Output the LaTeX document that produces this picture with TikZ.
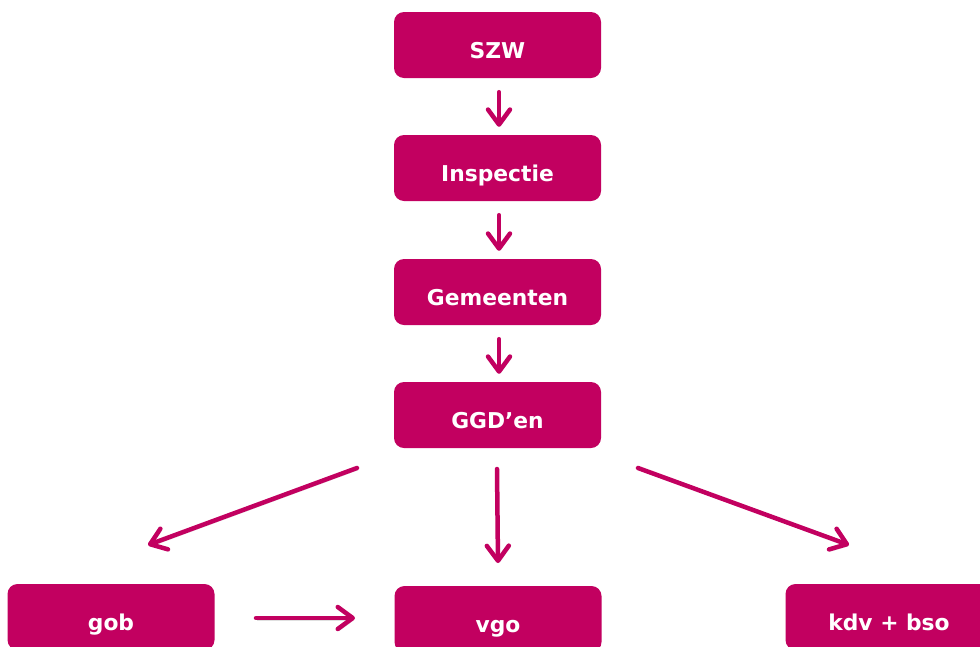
\documentclass[tikz,border=0pt]{standalone}
\usepackage{fontspec}
\setmainfont{DejaVu Sans}
\usetikzlibrary{arrows.meta}
\definecolor{roze}{RGB}{194,0,96}
\tikzset{
  box/.style={draw=none, fill=roze, rounded corners=10pt, minimum width=207pt, minimum height=66pt,
    inner sep=0pt, text=white, font=\fontsize{21.8}{26}\selectfont\bfseries, text height=26pt, text depth=0pt},
  pijl/.style={draw=roze, line width=4.5pt, line cap=round,
    -{Straight Barb[length=15pt, width=22pt, line cap=round, line join=round]},
    preaction={draw=black!35, opacity=0.35, transform canvas={shift={(1.2pt,-2pt)}}}},
}
\begin{document}
\begin{tikzpicture}[x=1pt, y=-1pt]
\useasboundingbox (0,0) rectangle (980,646);
\clip (0,0) rectangle (980,646);
\fill[white] (0,0) rectangle (980,646);
\node[box] (szw) at (497.5,45) {SZW};
\node[box] (insp) at (497.5,168) {Inspectie};
\node[box] (gem) at (497.5,292) {Gemeenten};
\node[box] (ggd) at (497.5,415) {GGD’en};
\node[box] (gob) at (111,617) {gob};
\node[box] (vgo) at (498,619) {vgo};
\node[box] (kdv) at (889,617) {kdv + bso};
% free arrow ends
\coordinate (gl0) at (357,468);
\coordinate (gl1) at (148,545);
\coordinate (gm0) at (497,469);
\coordinate (gm1) at (498,563);
\coordinate (gr0) at (638,468);
\coordinate (gr1) at (849,545);
\coordinate (h0) at (256,618);
\coordinate (h1) at (355,618);
\draw[pijl, shorten <=14pt, shorten >=8pt] ([xshift=1.5pt]szw.south) -- ([xshift=1.5pt]insp.north);
\draw[pijl, shorten <=14pt, shorten >=8pt] ([xshift=1.5pt]insp.south) -- ([xshift=1.5pt]gem.north);
\draw[pijl, shorten <=14pt, shorten >=8pt] ([xshift=1.5pt]gem.south) -- ([xshift=1.5pt]ggd.north);
\draw[pijl] (gl0) -- (gl1);
\draw[pijl] (gm0) -- (gm1);
\draw[pijl] (gr0) -- (gr1);
\draw[pijl] (h0) -- (h1);
\end{tikzpicture}
\end{document}
